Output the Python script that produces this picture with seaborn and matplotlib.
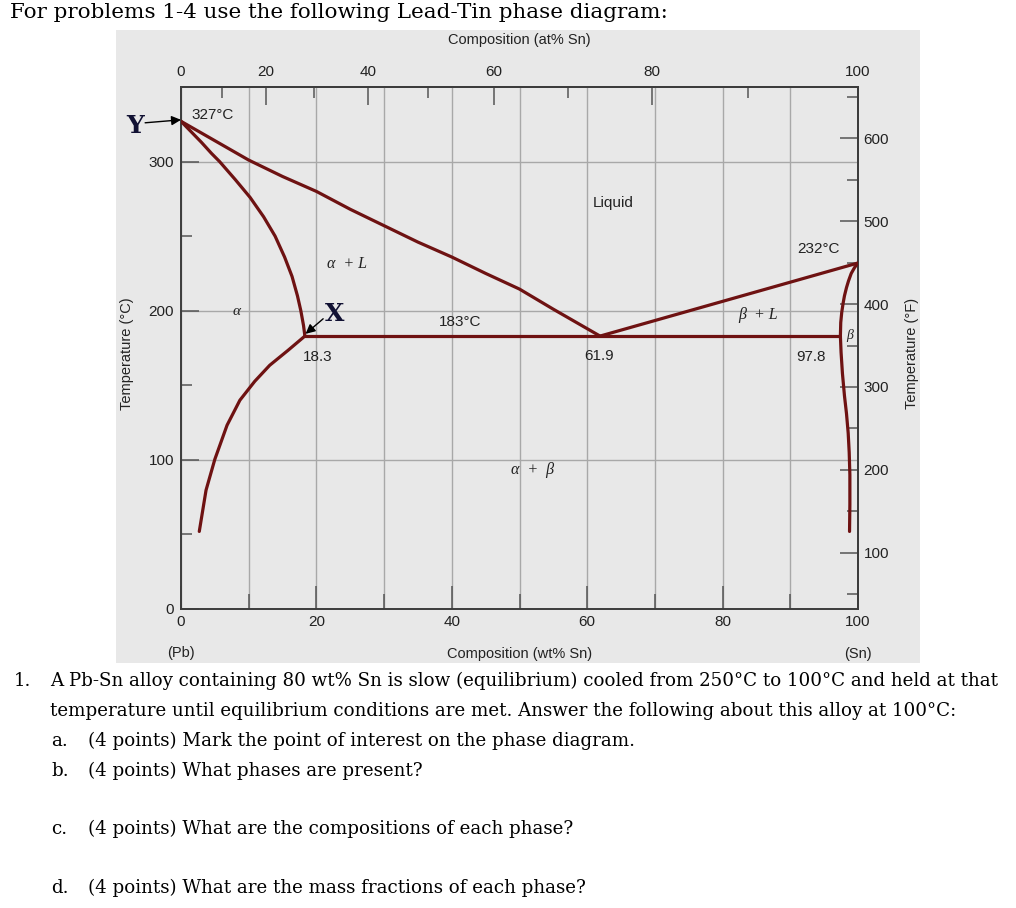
import numpy as np
import pandas as pd
import matplotlib
matplotlib.use("Agg")
import matplotlib.pyplot as plt
import seaborn as sns
from matplotlib.ticker import FixedLocator
from matplotlib.patches import Rectangle

sns.set_theme(style="white")
plt.rcParams['font.family'] = ['Liberation Sans', 'DejaVu Sans']

# ---------------- data (wt% Sn, temperature in degC) ----------------
liquidus_left_wt = [0, 5, 10, 15, 20, 25, 30, 35, 40, 45, 50, 55, 61.9]
liquidus_left_T = [327, 314, 301, 290, 280, 268, 257, 246, 236, 225, 214.5, 201, 183]

alpha_solidus_wt = [0, 1.5, 3.0, 4.5, 5.7, 8.0, 10.2, 12.2, 13.9, 15.3, 16.4, 17.2, 17.7, 18.1, 18.3]
alpha_solidus_T = [327, 320, 313, 305.5, 300, 288, 276, 263, 250, 236, 223, 210, 200, 190, 183]

alpha_solvus_wt = [18.3, 15.8, 13.1, 10.9, 8.7, 6.8, 5.0, 3.7, 2.7]
alpha_solvus_T = [183, 173.4, 163.4, 152.7, 140, 123.2, 100.4, 79.7, 52]

eutectic_wt = [18.3, 97.4]
eutectic_T = [183, 183]

liquidus_right_wt = [61.9, 100]
liquidus_right_T = [183, 232]

beta_wt = [100, 99.5, 99.0, 98.6, 98.3, 98.0, 97.8, 97.6, 97.45, 97.4,
           97.5, 97.7, 98.0, 98.3, 98.55, 98.7, 98.8, 98.8, 98.75]
beta_T = [232, 229, 225, 220, 215.5, 210, 205, 199, 192, 183,
          172, 158, 143, 131, 118, 105, 90, 70, 52]

wt_ticks = [0, 20, 40, 60, 80, 100]
wt_minor = [10, 30, 50, 70, 90]
at_ticks = [0, 20, 40, 60, 80, 100]
at_minor = [10, 30, 50, 70, 90]
c_ticks = [0, 100, 200, 300]
c_minor = [50, 150, 250]
f_ticks = [100, 200, 300, 400, 500, 600]
f_minor = [50, 150, 250, 350, 450, 550, 650]

labels = [
    ("327°C", 1.6, 331, 'left'),
    ("Liquid", 63.9, 272, 'center'),
    ("183°C", 41.3, 192.5, 'center'),
    ("18.3", 20.2, 169, 'center'),
    ("61.9", 61.7, 169.5, 'center'),
    ("232°C", 94.2, 241.5, 'center'),
    ("97.8", 93.0, 169, 'center'),
]
greek = [
    ("α", 8.2, 199.6, 11),
    ("α  + L", 24.5, 231.5, 11.5),
    ("β  + L", 85.2, 197, 11.5),
    ("β", 98.8, 183.4, 10),
    ("α  +  β", 51.9, 93.1, 11.5),
]

title = "For problems 1-4 use the following Lead-Tin phase diagram:"
questions = [
    ("1.", "A Pb-Sn alloy containing 80 wt% Sn is slow (equilibrium) cooled from 250°C to 100°C and held at that", 681),
    ("", "temperature until equilibrium conditions are met. Answer the following about this alloy at 100°C:", 711),
    ("a.", "(4 points) Mark the point of interest on the phase diagram.", 741),
    ("b.", "(4 points) What phases are present?", 771),
    ("c.", "(4 points) What are the compositions of each phase?", 829),
    ("d.", "(4 points) What are the mass fractions of each phase?", 888),
]

# ---------------- figure ----------------
W, H = 1016, 908
fig = plt.figure(figsize=(W / 100, H / 100), dpi=100)
fig.patch.set_facecolor('white')
BG = '#e8e8e8'
fig.add_artist(Rectangle((116 / W, 1 - 663 / H), 804 / W, 633 / H,
                         transform=fig.transFigure, facecolor=BG,
                         edgecolor='none', zorder=0))

ax = fig.add_axes([181 / W, 1 - 609 / H, 677 / W, 522 / H])
ax.set_facecolor(BG)

LC = '#6e1212'
curves = [
    (liquidus_left_wt, liquidus_left_T),
    (alpha_solidus_wt, alpha_solidus_T),
    (alpha_solvus_wt, alpha_solvus_T),
    (eutectic_wt, eutectic_T),
    (liquidus_right_wt, liquidus_right_T),
    (beta_wt, beta_T),
]
for cx, cy in curves:
    df = pd.DataFrame({'wt': cx, 'T': cy})
    sns.lineplot(data=df, x='wt', y='T', sort=False, estimator=None,
                 color=LC, lw=2.3, ax=ax, zorder=5)
for l in ax.lines:
    l.set_solid_capstyle('round')
    l.set_solid_joinstyle('round')

ax.set_xlim(0, 100)
ax.set_ylim(0, 350)

SP = '#3c3c3c'
for s in ax.spines.values():
    s.set_color(SP)
    s.set_linewidth(1.4)

GC = '#a8a8a8'
ax.xaxis.set_major_locator(FixedLocator(wt_ticks))
ax.xaxis.set_minor_locator(FixedLocator(wt_minor))
ax.yaxis.set_major_locator(FixedLocator(c_ticks))
ax.yaxis.set_minor_locator(FixedLocator(c_minor))
ax.grid(axis='x', which='both', color=GC, lw=1.0)
ax.grid(axis='y', which='major', color=GC, lw=1.0)
ax.set_axisbelow(True)

TC = '#555555'
LBL = '#222222'
ax.tick_params(axis='x', which='major', direction='in', length=16.5, width=1.1,
               color=TC, labelsize=11, labelcolor=LBL, pad=4, bottom=True)
ax.tick_params(axis='x', which='minor', direction='in', length=10.8, width=1.1,
               color=TC, bottom=True)
ax.tick_params(axis='y', which='major', direction='in', length=13, width=1.1,
               color=TC, labelsize=11, labelcolor=LBL, pad=5, left=True)
ax.tick_params(axis='y', which='minor', direction='in', length=8, width=1.1,
               color=TC, left=True)

ax.set_xlabel("Composition (wt% Sn)", fontsize=10.5, color=LBL, va='center')
ax.xaxis.set_label_coords(0.5, -(654 - 609) / 522)
ax.set_ylabel("Temperature (°C)", fontsize=10.5, color=LBL, va='center')
ax.yaxis.set_label_coords((127 - 181) / 677, 0.49)
ax.text(0, -(653 - 609) / 522, "(Pb)", transform=ax.transAxes, ha='center',
        va='center', fontsize=10.5, color=LBL)
ax.text(1, -(654 - 609) / 522, "(Sn)", transform=ax.transAxes, ha='center',
        va='center', fontsize=10.5, color=LBL)


# top axis: atomic percent
def wt2at(w):
    w = np.asarray(w, dtype=float)
    with np.errstate(divide='ignore', invalid='ignore'):
        a = w / 118.71
        b = (100 - w) / 207.2
        return 100 * a / (a + b)


def at2wt(a):
    a = np.asarray(a, dtype=float)
    with np.errstate(divide='ignore', invalid='ignore'):
        m = a * 118.71
        n = (100 - a) * 207.2
        return 100 * m / (m + n)


secx = ax.secondary_xaxis('top', functions=(wt2at, at2wt))
secx.xaxis.set_major_locator(FixedLocator(at_ticks))
secx.xaxis.set_minor_locator(FixedLocator(at_minor))
secx.tick_params(which='major', direction='in', length=13, width=1.1, color=TC,
                 labelsize=11, labelcolor=LBL, pad=6)
secx.tick_params(which='minor', direction='in', length=8, width=1.1, color=TC)
secx.spines['top'].set_color(SP)
secx.spines['top'].set_linewidth(1.4)
ax.text(0.5, (609 - 40) / 522, "Composition (at% Sn)", transform=ax.transAxes,
        ha='center', va='center', fontsize=10.5, color=LBL)


# right axis: Fahrenheit
def c2f(c):
    return np.asarray(c, dtype=float) * 9 / 5 + 32


def f2c(f):
    return (np.asarray(f, dtype=float) - 32) * 5 / 9


secy = ax.secondary_yaxis('right', functions=(c2f, f2c))
secy.yaxis.set_major_locator(FixedLocator(f_ticks))
secy.yaxis.set_minor_locator(FixedLocator(f_minor))
secy.tick_params(which='major', direction='in', length=13, width=1.1, color=TC,
                 labelsize=11, labelcolor=LBL, pad=4)
secy.tick_params(which='minor', direction='in', length=8, width=1.1, color=TC)
secy.spines['right'].set_color(SP)
secy.spines['right'].set_linewidth(1.4)
ax.text((912 - 181) / 677, 0.49, "Temperature (°F)", transform=ax.transAxes,
        rotation=90, ha='center', va='center', fontsize=10.5, color=LBL)

# annotations inside the diagram
for s, x, y, ha in labels:
    ax.text(x, y, s, ha=ha, va='center', fontsize=11, color=LBL, zorder=6)
for s, x, y, fs in greek:
    ax.text(x, y, s, ha='center', va='center', fontsize=fs, color=LBL,
            family='Liberation Serif', style='italic', zorder=6)

ax.text(-6.8, 324, "Y", ha='center', va='center', fontsize=18,
        family='DejaVu Serif', weight='bold', color='#111133', clip_on=False)
ax.annotate('', xy=(0, 328), xytext=(-5.3, 326),
            arrowprops=dict(arrowstyle='-|>', color='black', lw=1.0,
                            mutation_scale=14, shrinkA=0, shrinkB=0),
            annotation_clip=False, zorder=7)
ax.text(22.7, 198, "X", ha='center', va='center', fontsize=18,
        family='DejaVu Serif', weight='bold', color='#111133', zorder=7)
ax.annotate('', xy=(18.4, 184.5), xytext=(21.0, 194.6),
            arrowprops=dict(arrowstyle='-|>', color='black', lw=1.0,
                            mutation_scale=14, shrinkA=0, shrinkB=0),
            zorder=7)

# ---------------- question text ----------------
renderer = fig.canvas.get_renderer()
SERIF = 'DejaVu Serif'


def fitted_size(s, target_w, base=15, **kw):
    t = fig.text(0, 0, s, fontsize=base, family=SERIF, **kw)
    w = t.get_window_extent(renderer).width
    t.remove()
    return base * target_w / w


fs_title = fitted_size(title, 656)
fig.text(10 / W, 1 - 13 / H, title, fontsize=fs_title, family=SERIF,
         ha='left', va='center', color='black')

fs_q = fitted_size(questions[0][1], 953)
for lead, body, y in questions:
    if lead == "1.":
        fig.text(14 / W, 1 - y / H, lead, fontsize=fs_q, family=SERIF,
                 ha='left', va='center', color='black')
        fig.text(50 / W, 1 - y / H, body, fontsize=fs_q, family=SERIF,
                 ha='left', va='center', color='black')
    elif lead == "":
        fig.text(50 / W, 1 - y / H, body, fontsize=fs_q, family=SERIF,
                 ha='left', va='center', color='black')
    else:
        fig.text(51 / W, 1 - y / H, lead, fontsize=fs_q, family=SERIF,
                 ha='left', va='center', color='black')
        fig.text(88 / W, 1 - y / H, body, fontsize=fs_q, family=SERIF,
                 ha='left', va='center', color='black')

fig.savefig('out.png', dpi=100, facecolor='white')
